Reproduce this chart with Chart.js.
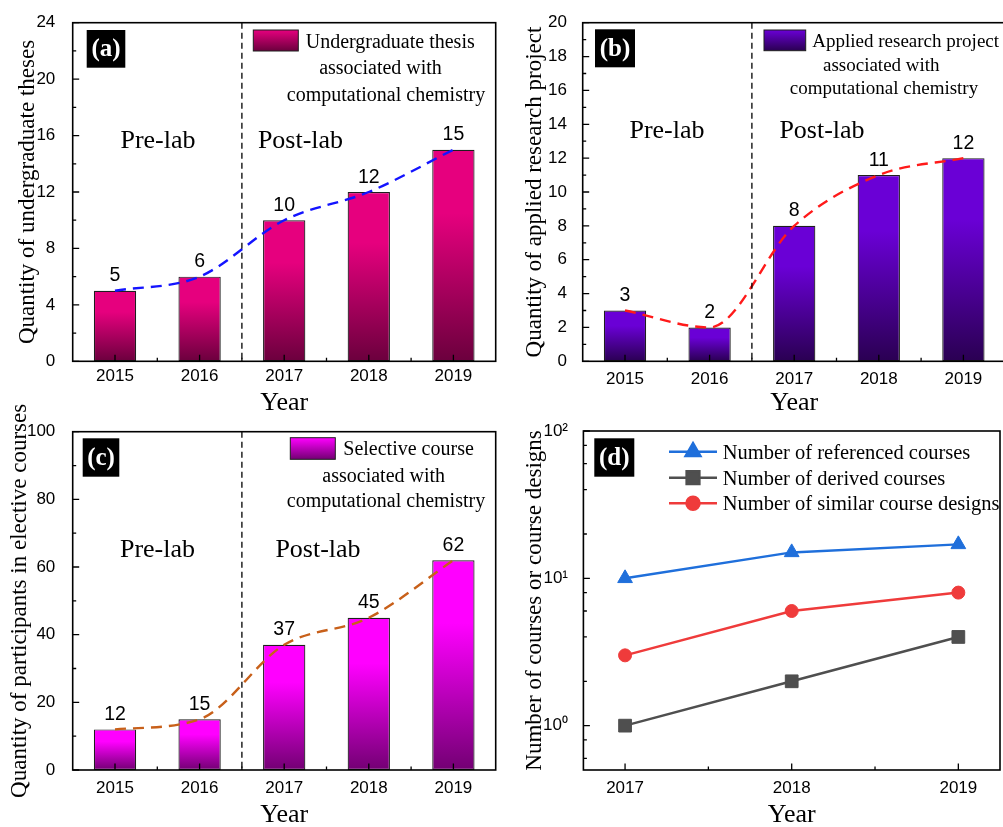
<!DOCTYPE html>
<html>
<head>
<meta charset="utf-8">
<script src="https://cdn.jsdelivr.net/npm/chart.js@4/dist/chart.umd.min.js"></script>
<style>
  html, body { margin: 0; padding: 0; background: #fff; overflow: hidden; }
  #wrap { position: relative; width: 1003px; height: 827px; overflow: hidden; background: #fff; }
  canvas { position: absolute; }
</style>
</head>
<body>
<div id="wrap">
  <canvas id="panelA" width="500" height="420" style="left:0;top:0;width:500px;height:420px"></canvas>
  <canvas id="panelB" width="510" height="420" style="left:500px;top:0;width:510px;height:420px"></canvas>
  <canvas id="panelC" width="500" height="440" style="left:0;top:390px;width:500px;height:440px"></canvas>
  <canvas id="panelD" width="510" height="440" style="left:500px;top:390px;width:510px;height:440px"></canvas>
</div>
<script>
const SERIF = '"Liberation Serif", "Times New Roman", Times, serif';
const SANS = '"Liberation Sans", Arial, Helvetica, sans-serif';

// Yearly counts (bar panels)
const years = ['2015', '2016', '2017', '2018', '2019'];
const thesisCounts = [5, 6, 10, 12, 15];
const projectCounts = [3, 2, 8, 11, 12];
const participantCounts = [12, 15, 37, 45, 62];

// Course spread (log panel)
const courseYears = [2017, 2018, 2019];
const referencedCourses = [10, 15, 17];
const derivedCourses = [1, 2, 4];
const similarDesigns = [3, 6, 8];

const logTickValues = [1, 10, 100];
const logTickLabels = ['10\u2070', '10\u00B9', '10\u00B2'];
const logMinorTicks = [0.6, 0.8, 2, 4, 6, 8, 20, 40, 60, 80];

// positions of unlabeled ticks halfway between labelled ones
function midTicks(step, max) {
  const out = [];
  for (let v = step / 2; v < max; v += step) out.push(v);
  return out;
}

// vertical gradient for each bar: bright top fading to a dark base
function barFill(top, bottom) {
  return (c) => {
    const chart = c.chart;
    if (!chart.chartArea || c.type !== 'data') return top;
    const ys = chart.scales.y;
    const yTop = ys.getPixelForValue(c.raw);
    const yBase = ys.getPixelForValue(0);
    if (!isFinite(yTop) || !isFinite(yBase) || yBase - yTop < 1) return top;
    const g = chart.ctx.createLinearGradient(0, yTop, 0, yBase);
    g.addColorStop(0, top);
    g.addColorStop(0.3, top);
    g.addColorStop(1, bottom);
    return g;
  };
}

// frame, inward ticks, divider, value labels, panel tag and legends
const decor = {
  id: 'decor',
  afterDatasetsDraw(chart, args, o) {
    const { ctx, chartArea: a } = chart;
    const xs = chart.scales.x, ys = chart.scales.y;
    ctx.save();

    if (o.divider !== undefined && o.divider !== null) {
      const px = xs.getPixelForValue(o.divider);
      ctx.strokeStyle = '#000';
      ctx.lineWidth = 1.3;
      ctx.setLineDash([6, 4]);
      ctx.beginPath();
      ctx.moveTo(px, a.top);
      ctx.lineTo(px, a.bottom);
      ctx.stroke();
      ctx.setLineDash([]);
    }

    ctx.strokeStyle = '#000';
    ctx.lineWidth = 1.3;
    ctx.beginPath();
    xs.ticks.forEach(t => {
      const px = xs.getPixelForValue(t.value);
      ctx.moveTo(px, a.bottom); ctx.lineTo(px, a.bottom - 6.5);
    });
    (o.minorX || []).forEach(v => {
      const px = xs.getPixelForValue(v);
      ctx.moveTo(px, a.bottom); ctx.lineTo(px, a.bottom - 3.5);
    });
    ys.ticks.forEach(t => {
      const py = ys.getPixelForValue(t.value);
      ctx.moveTo(a.left, py); ctx.lineTo(a.left + 6.5, py);
    });
    (o.minorY || []).forEach(v => {
      const py = ys.getPixelForValue(v);
      ctx.moveTo(a.left, py); ctx.lineTo(a.left + 3.5, py);
    });
    ctx.stroke();

    ctx.lineWidth = 1.6;
    ctx.strokeRect(a.left, a.top, a.right - a.left, a.bottom - a.top);

    if (o.valueLabels) {
      const meta = chart.getDatasetMeta(1);
      const vals = chart.data.datasets[1].data;
      ctx.fillStyle = '#000';
      ctx.font = '19.5px ' + SANS;
      ctx.textAlign = 'center';
      ctx.textBaseline = 'alphabetic';
      meta.data.forEach((bar, i) => ctx.fillText(String(vals[i]), bar.x, bar.y - 9.5));
    }

    if (o.phases) {
      ctx.fillStyle = '#000';
      ctx.font = '26px ' + SERIF;
      ctx.textAlign = 'center';
      ctx.textBaseline = 'alphabetic';
      o.phases.forEach(p => ctx.fillText(p.text, a.left + p.x, a.top + p.y));
    }

    if (o.tag) {
      const t = o.tag;
      ctx.fillStyle = '#000';
      ctx.fillRect(a.left + t.x, a.top + t.y, t.w, t.h);
      ctx.fillStyle = '#fff';
      ctx.font = 'bold 25px ' + SERIF;
      ctx.textAlign = 'center';
      ctx.textBaseline = 'middle';
      ctx.fillText(t.text, a.left + t.x + t.w / 2, a.top + t.y + t.h / 2 + 1);
    }

    if (o.legend) {
      const L = o.legend;
      const sx = a.left + L.swatch[0], sy = a.top + L.swatch[1];
      const sw = L.swatch[2], sh = L.swatch[3];
      const g = ctx.createLinearGradient(0, sy, 0, sy + sh);
      g.addColorStop(0, L.top);
      g.addColorStop(1, L.bottom);
      ctx.fillStyle = g;
      ctx.fillRect(sx, sy, sw, sh);
      ctx.strokeStyle = '#1e1e1e';
      ctx.lineWidth = 1;
      ctx.strokeRect(sx, sy, sw, sh);
      ctx.fillStyle = '#000';
      ctx.font = L.size + 'px ' + SERIF;
      ctx.textBaseline = 'alphabetic';
      L.lines.forEach(l => {
        ctx.textAlign = l.align;
        ctx.fillText(l.text, a.left + l.x, a.top + l.y);
      });
    }

    if (o.lineLegend) {
      const L = o.lineLegend;
      chart.data.datasets.forEach((ds, i) => {
        const yy = a.top + L.rows[i];
        ctx.strokeStyle = ds.borderColor;
        ctx.lineWidth = ds.borderWidth;
        ctx.beginPath();
        ctx.moveTo(a.left + L.x1, yy);
        ctx.lineTo(a.left + L.x2, yy);
        ctx.stroke();
        ctx.fillStyle = ds.backgroundColor;
        ctx.strokeStyle = ds.borderColor;
        Chart.helpers.drawPoint(ctx, { pointStyle: ds.pointStyle, radius: ds.pointRadius, borderWidth: 1, rotation: 0 }, a.left + L.xm, yy);
        ctx.fillStyle = '#000';
        ctx.font = L.size + 'px ' + SERIF;
        ctx.textAlign = 'left';
        ctx.textBaseline = 'alphabetic';
        ctx.fillText(ds.label, a.left + L.xt, yy + 7);
      });
    }
    ctx.restore();
  }
};

function axisTitle(text, pad, isY) {
  return {
    display: true, text: text, color: '#000',
    font: { family: SERIF, size: isY ? 23 : 26, lineHeight: 1 },
    padding: isY ? { top: pad, bottom: 0 } : { top: 0, bottom: pad }
  };
}

function barPanel(id, g, s) {
  return new Chart(document.getElementById(id), {
    type: 'bar',
    data: {
      labels: years,
      datasets: [
        { type: 'line', data: s.values, borderColor: s.trend, borderWidth: 2.4, borderDash: [11, 7],
          pointRadius: 0, cubicInterpolationMode: 'monotone', fill: false },
        { type: 'bar', data: s.values, backgroundColor: barFill(s.top, s.bottom), borderColor: '#1e1e1e',
          borderWidth: 1.2, borderSkipped: false, barPercentage: 0.5, categoryPercentage: 1 }
      ]
    },
    options: {
      responsive: false, devicePixelRatio: 1, animation: false, events: [],
      layout: { padding: { top: g.top, right: g.right, left: 0, bottom: 0 } },
      scales: {
        x: {
          type: 'category', offset: true,
          grid: { display: false }, border: { display: false },
          ticks: { color: '#000', font: { family: SANS, size: 17 }, padding: g.xPad, maxRotation: 0, autoSkip: false },
          title: axisTitle('Year', g.xTitlePad, false),
          afterFit: sc => { sc.height = g.xH; }
        },
        y: {
          min: 0, max: s.max,
          grid: { display: false }, border: { display: false },
          ticks: { stepSize: s.step, color: '#000', font: { family: SANS, size: 17 }, padding: g.yPad },
          title: axisTitle(s.yTitle, g.yTitlePad, true),
          afterFit: sc => { sc.width = g.yW; }
        }
      },
      plugins: {
        legend: { display: false },
        tooltip: { enabled: false },
        decor: {
          divider: 1.5,
          minorX: [0.5, 1.5, 2.5, 3.5],
          minorY: midTicks(s.step, s.max),
          valueLabels: true,
          phases: s.phases,
          tag: s.tag,
          legend: s.legend
        }
      }
    },
    plugins: [decor]
  });
}

barPanel('panelA',
  { top: 22.7, right: 4.3, yW: 72.7, xH: 58.7, xPad: -3, yPad: 9.4, xTitlePad: 3.7, yTitlePad: 16.5 },
  {
    values: thesisCounts, max: 24, step: 4, top: '#e6007e', bottom: '#6b003d', trend: '#1414ff',
    yTitle: 'Quantity of undergraduate theses',
    phases: [{ text: 'Pre-lab', x: 85.3, y: 125.6 }, { text: 'Post-lab', x: 227.8, y: 125.6 }],
    tag: { text: '(a)', x: 14, y: 7.3, w: 38.6, h: 37.7 },
    legend: {
      swatch: [180.6, 7.3, 45, 21], top: '#e6007e', bottom: '#6b003d', size: 20,
      lines: [
        { text: 'Undergraduate thesis', x: 233, y: 25.6, align: 'left' },
        { text: 'associated with', x: 307.8, y: 51, align: 'center' },
        { text: 'computational chemistry', x: 313.3, y: 77.8, align: 'center' }
      ]
    }
  });

barPanel('panelB',
  { top: 22.7, right: 4.3, yW: 82.7, xH: 58.7, xPad: 0.3, yPad: 7.7, xTitlePad: 3.7, yTitlePad: 23.5 },
  {
    values: projectCounts, max: 20, step: 2, top: '#6a00d6', bottom: '#2a0052', trend: '#ff1a1a',
    yTitle: 'Quantity of applied research project',
    phases: [{ text: 'Pre-lab', x: 84.3, y: 115.6 }, { text: 'Post-lab', x: 239.3, y: 115.6 }],
    tag: { text: '(b)', x: 12.3, y: 6.6, w: 40, h: 38 },
    legend: {
      swatch: [181.3, 7.3, 41.7, 20.7], top: '#6a00d6', bottom: '#2a0052', size: 19,
      lines: [
        { text: 'Applied research project', x: 229.6, y: 24, align: 'left' },
        { text: 'associated with', x: 298.6, y: 48, align: 'center' },
        { text: 'computational chemistry', x: 301.3, y: 71.6, align: 'center' }
      ]
    }
  });

barPanel('panelC',
  { top: 41.7, right: 4.3, yW: 72.7, xH: 60, xPad: 0, yPad: 9.4, xTitlePad: 2, yTitlePad: 8.2 },
  {
    values: participantCounts, max: 100, step: 20, top: '#ff00ff', bottom: '#730073', trend: '#c8601a',
    yTitle: 'Quantity of participants in elective courses',
    phases: [{ text: 'Pre-lab', x: 84.8, y: 125 }, { text: 'Post-lab', x: 245.3, y: 125 }],
    tag: { text: '(c)', x: 10, y: 6.6, w: 36.6, h: 38.4 },
    legend: {
      swatch: [217.6, 6, 45, 21.6], top: '#ff00ff', bottom: '#730073', size: 20,
      lines: [
        { text: 'Selective course', x: 270.6, y: 23.3, align: 'left' },
        { text: 'associated with', x: 311, y: 50, align: 'center' },
        { text: 'computational chemistry', x: 313.3, y: 75.6, align: 'center' }
      ]
    }
  });

// log-scale line panel
const BLUE = '#1f6fdb', GRAY = '#4f4f4f', RED = '#ef3b3b';
const pts = vals => courseYears.map((x, i) => ({ x: x, y: vals[i] }));

new Chart(document.getElementById('panelD'), {
  type: 'line',
  data: {
    datasets: [
      { label: 'Number of referenced courses', data: pts(referencedCourses), borderColor: BLUE, backgroundColor: BLUE,
        borderWidth: 2.5, pointStyle: 'triangle', pointRadius: 8.5, pointBorderWidth: 1, pointBorderColor: BLUE, pointBackgroundColor: BLUE },
      { label: 'Number of derived courses', data: pts(derivedCourses), borderColor: GRAY, backgroundColor: GRAY,
        borderWidth: 2.5, pointStyle: 'rect', pointRadius: 9, pointBorderWidth: 1, pointBorderColor: GRAY, pointBackgroundColor: GRAY },
      { label: 'Number of similar course designs', data: pts(similarDesigns), borderColor: RED, backgroundColor: RED,
        borderWidth: 2.5, pointStyle: 'circle', pointRadius: 6.5, pointBorderWidth: 1, pointBorderColor: RED, pointBackgroundColor: RED }
    ]
  },
  options: {
    responsive: false, devicePixelRatio: 1, animation: false, events: [],
    layout: { padding: { top: 41, right: 3.4, left: 0, bottom: 0 } },
    scales: {
      x: {
        type: 'linear', min: 2016.75, max: 2019.25,
        grid: { display: false }, border: { display: false },
        afterBuildTicks: sc => { sc.ticks = courseYears.map(v => ({ value: v })); },
        ticks: { color: '#000', font: { family: SANS, size: 17 }, padding: 0, maxRotation: 0, autoSkip: false,
          callback: v => String(v) },
        title: axisTitle('Year', 2, false),
        afterFit: sc => { sc.height = 60; }
      },
      y: {
        type: 'logarithmic', min: 0.5, max: 100,
        grid: { display: false }, border: { display: false },
        afterBuildTicks: sc => { sc.ticks = logTickValues.map(v => ({ value: v })); },
        ticks: { color: '#000', font: { family: SANS, size: 17 }, padding: 7.4,
          callback: v => logTickLabels[logTickValues.indexOf(v)] },
        title: axisTitle('Number of courses or course designs', 23.5, true),
        afterFit: sc => { sc.width = 83.4; }
      }
    },
    plugins: {
      legend: { display: false },
      tooltip: { enabled: false },
      decor: {
        minorX: [2017.5, 2018.5],
        minorY: logMinorTicks,
        tag: { text: '(d)', x: 10.9, y: 7.3, w: 40, h: 38.4 },
        lineLegend: { rows: [20.7, 46.7, 72.3], x1: 85.6, x2: 133.6, xm: 109.6, xt: 139.3, size: 20.5 }
      }
    }
  },
  plugins: [decor]
});
</script>
</body>
</html>
